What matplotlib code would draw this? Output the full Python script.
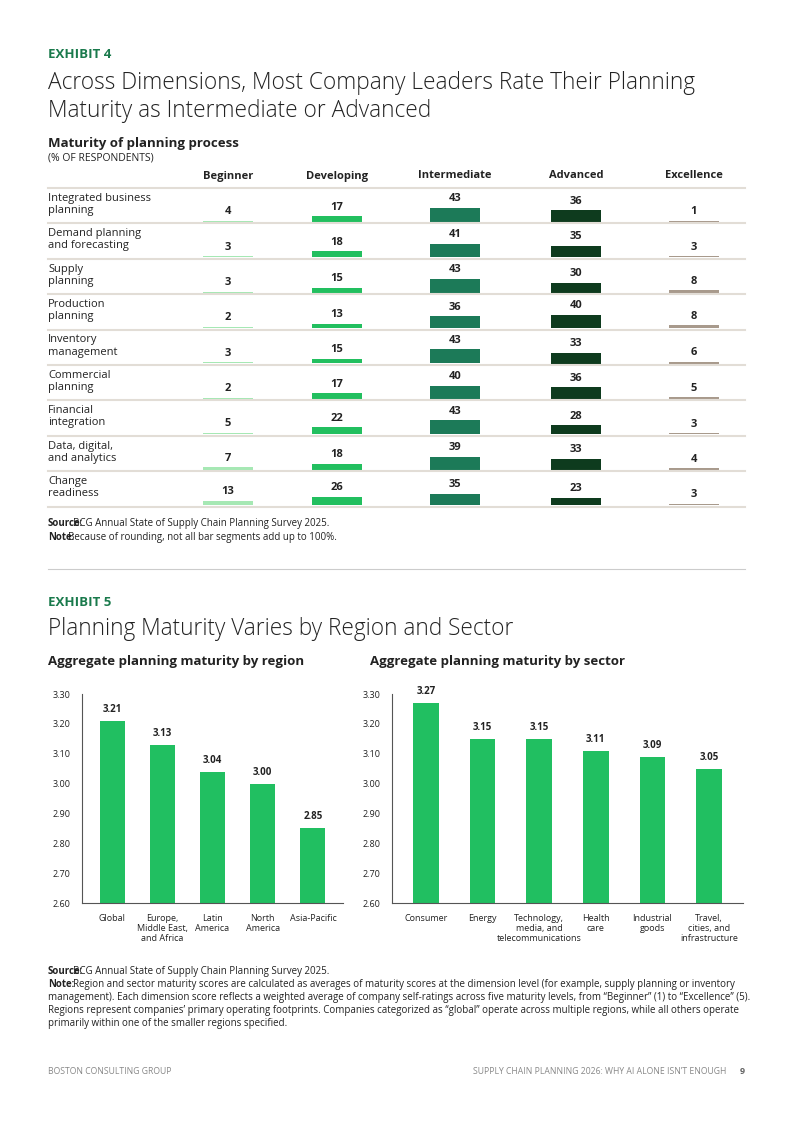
import matplotlib
matplotlib.use("Agg")
import matplotlib.pyplot as plt

plt.rcParams["font.family"] = ["Open Sans", "DejaVu Sans"]

# Exhibit 4 data
dimensions = ["Integrated business\nplanning", "Demand planning\nand forecasting", "Supply\nplanning",
              "Production\nplanning", "Inventory\nmanagement", "Commercial\nplanning",
              "Financial\nintegration", "Data, digital,\nand analytics", "Change\nreadiness"]
levels = ["Beginner", "Developing", "Intermediate", "Advanced", "Excellence"]
beginner = [4, 3, 3, 2, 3, 2, 5, 7, 13]
developing = [17, 18, 15, 13, 15, 17, 22, 18, 26]
intermediate = [43, 41, 43, 36, 43, 40, 43, 39, 35]
advanced = [36, 35, 30, 40, 33, 36, 28, 33, 23]
excellence = [1, 3, 8, 8, 6, 5, 3, 4, 3]
level_colors = ["#a6e8b4", "#22bf5f", "#1c7a58", "#0e3b1e", "#a89a8c"]

# Exhibit 5 data
regions = ["Global", "Europe,\nMiddle East,\nand Africa", "Latin\nAmerica", "North\nAmerica", "Asia-Pacific"]
region_scores = [3.21, 3.13, 3.04, 3.00, 2.85]
sectors = ["Consumer", "Energy", "Technology,\nmedia, and\ntelecommunications", "Health\ncare",
           "Industrial\ngoods", "Travel,\ncities, and\ninfrastructure"]
sector_scores = [3.27, 3.15, 3.15, 3.11, 3.09, 3.05]

W, H = 793, 1121
GREEN = "#21bf61"
DARK = "#1a7a4c"
TXT = "#222222"
fig = plt.figure(figsize=(W / 100, H / 100), dpi=100)
page = fig.add_axes([0, 0, 1, 1])
page.set_xlim(0, W)
page.set_ylim(H, 0)
page.axis("off")

def t(x, y, s, **kw):
    kw.setdefault("color", TXT)
    kw.setdefault("va", "center")
    page.text(x, y, s, **kw)

t(48, 54, "EXHIBIT 4", fontsize=9.5, fontweight="bold", color=DARK)
t(48, 97, "Across Dimensions, Most Company Leaders Rate Their Planning\nMaturity as Intermediate or Advanced",
  fontsize=16.3, fontweight="light", linespacing=1.25)
t(48, 143, "Maturity of planning process", fontsize=9.5, fontweight="bold")
t(48, 158, "(% OF RESPONDENTS)", fontsize=7.5)

col_x = [228, 337, 455, 576, 694]
bar_w = 50
for x, lv in zip(col_x, levels):
    t(x, 176, lv, fontsize=8, fontweight="bold", ha="center")
page.plot([48, 745], [188, 188], color="#e2ddd6", lw=1.5)

series = [beginner, developing, intermediate, advanced, excellence]
row_h = 35.4
scale = 0.33
for i, dim in enumerate(dimensions):
    bottom = 188 + row_h * (i + 1)
    t(48, bottom - 19, dim, fontsize=8, linespacing=1.15)
    page.plot([48, 745], [bottom, bottom], color="#e2ddd6", lw=1.5)
    for j, vals in enumerate(series):
        h = max(vals[i] * scale, 1.2)
        page.add_patch(plt.Rectangle((col_x[j] - bar_w / 2, bottom - 1.5 - h), bar_w, h,
                                     color=level_colors[j], lw=0))
        t(col_x[j], bottom - 1.5 - h - 9, str(vals[i]), fontsize=8, fontweight="bold", ha="center")

def source_note(y, label, body, **kw):
    t(48, y, label, fontsize=7, fontweight="bold", va="top")
    t(48, y, " " * (len(label) + 3) + body, fontsize=7, va="top", **kw)

source_note(518, "Source:", "BCG Annual State of Supply Chain Planning Survey 2025.")
source_note(532, "Note:", "Because of rounding, not all bar segments add up to 100%.")
page.plot([48, 745], [569, 569], color="#cccccc", lw=0.8)

t(48, 602, "EXHIBIT 5", fontsize=9.5, fontweight="bold", color=DARK)
t(48, 629, "Planning Maturity Varies by Region and Sector", fontsize=16.3, fontweight="light")
t(48, 662, "Aggregate planning maturity by region", fontsize=9.5, fontweight="bold")
t(370, 662, "Aggregate planning maturity by sector", fontsize=9.5, fontweight="bold")

def bar_panel(left, right, cats, vals, width):
    ax = fig.add_axes([left / W, 1 - 903 / H, (right - left) / W, (903 - 694) / H])
    x = range(len(cats))
    ax.bar(x, vals, width=width, color=GREEN)
    ax.set_ylim(2.6, 3.3)
    ax.set_xlim(-0.6, len(cats) - 0.4)
    ax.set_yticks([2.6 + 0.1 * k for k in range(8)])
    ax.set_yticklabels([f"{2.6 + 0.1 * k:.2f}" for k in range(8)], fontsize=6.5, color=TXT)
    ax.set_xticks(list(x))
    ax.set_xticklabels(cats, fontsize=6.5, color=TXT, linespacing=1.15)
    ax.tick_params(length=0, pad=8)
    for s in ["top", "right"]:
        ax.spines[s].set_visible(False)
    for s in ["left", "bottom"]:
        ax.spines[s].set_color("#555555")
        ax.spines[s].set_linewidth(0.8)
    for xi, v in zip(x, vals):
        ax.text(xi, v + 0.02, f"{v:.2f}", ha="center", va="bottom", fontsize=7, fontweight="bold", color=TXT)

bar_panel(82, 343, regions, region_scores, 0.5)
bar_panel(392, 743, sectors, sector_scores, 0.45)

source_note(966, "Source:", "BCG Annual State of Supply Chain Planning Survey 2025.")
note = ("Region and sector maturity scores are calculated as averages of maturity scores at the dimension level (for example, supply planning or inventory\n"
        "management). Each dimension score reflects a weighted average of company self-ratings across five maturity levels, from \u201cBeginner\u201d (1) to \u201cExcellence\u201d (5).\n"
        "Regions represent companies\u2019 primary operating footprints. Companies categorized as \u201cglobal\u201d operate across multiple regions, while all others operate\n"
        "primarily within one of the smaller regions specified.")
t(48, 979, "Note:", fontsize=7, fontweight="bold", va="top")
t(48, 979, "          " + note, fontsize=7, va="top", linespacing=1.25)

t(48, 1071, "BOSTON CONSULTING GROUP", fontsize=6.2, color="#888888")
t(726, 1071, "SUPPLY CHAIN PLANNING 2026: WHY AI ALONE ISN\u2019T ENOUGH", fontsize=6.2, color="#888888", ha="right")
t(740, 1071, "9", fontsize=6.5, color="#666666", fontweight="bold")

fig.savefig("out.png", dpi=100, facecolor="white")
